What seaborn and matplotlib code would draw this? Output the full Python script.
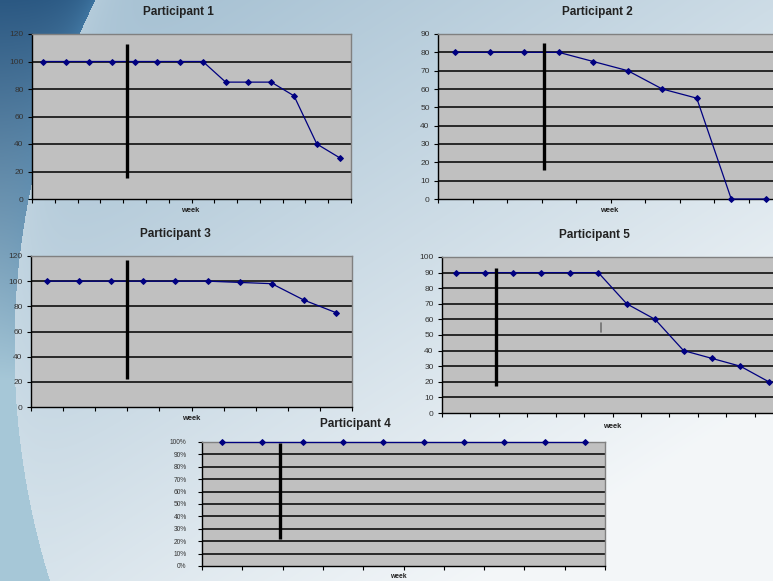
import numpy as np
import matplotlib
matplotlib.use("Agg")
import matplotlib.pyplot as plt
import seaborn as sns
from matplotlib.ticker import MultipleLocator, PercentFormatter, NullFormatter

# data (scores per week)
p1_scores = [100, 100, 100, 100, 100, 100, 100, 100, 85, 85, 85, 75, 40, 30]
p2_scores = [80, 80, 80, 80, 75, 70, 60, 55, 0, 0]
p3_scores = [100, 100, 100, 100, 100, 100, 99, 98, 85, 75]
p5_scores = [90, 90, 90, 90, 90, 90, 70, 60, 40, 35, 30, 20]
p4_scores = [100, 100, 100, 100, 100, 100, 100, 100, 100, 100]

# phase change line: x position (week index) and y extent
p1_phase = (3.67, 15, 113)
p2_phase = (2.56, 16, 85)
p3_phase = (2.5, 22, 117)
p5_phase = (1.41, 17, 93)
p4_phase = (1.44, 22, 99)

W, H = 773, 581
sns.set_style("ticks")
plt.rcParams["font.family"] = ["Liberation Sans", "DejaVu Sans"]

fig = plt.figure(figsize=(W / 100, H / 100), dpi=100)

# slide background
yy, xx = np.mgrid[0:H, 0:W].astype(float)
d = np.hypot(xx - 800, yy - 347) - 786
def rgb(h):
    return np.array(matplotlib.colors.to_rgb(h))
s = np.clip(xx / W * 0.55 + yy / H * 0.65, 0, 1)[..., None]
inner = rgb("#9cbace") * (1 - s) + rgb("#f4f7f9") * s
rim = np.exp(np.minimum(d, 0) / 30)[..., None]
inner = inner * (1 - 0.35 * rim) + rgb("#d6e4ec") * 0.35 * rim
t = np.clip(yy / 380, 0, 1)[..., None]
outer = rgb("#2b5882") * (1 - t) + rgb("#a6c7d7") * t
glow = np.exp(-np.maximum(d, 0) / 18)[..., None] * (1 - t) * 0.5
outer = outer * (1 - glow) + rgb("#4f8fbd") * glow
img = np.where((d < 0)[..., None], inner, outer)
bg = fig.add_axes([0, 0, 1, 1], zorder=-10)
bg.imshow(img, aspect="auto", extent=(0, W, H, 0))
bg.axis("off")


def px_rect(l, t, r, b):
    return [l / W, 1 - b / H, (r - l) / W, (b - t) / H]


def panel(rect, scores, phase, ymax, ystep, title, title_xy, week_xy, small=False):
    ax = fig.add_axes(px_rect(*rect))
    n = len(scores)
    weeks = list(range(n))
    ax.set_facecolor("#c0c0c0")
    for y in np.arange(ystep, ymax, ystep):
        ax.axhline(y, color="black", lw=1.1, zorder=1)
    sns.lineplot(x=weeks, y=scores, ax=ax, color="#000080", lw=0.9,
                 marker="D", markersize=3, markeredgecolor="#000080",
                 clip_on=False, zorder=3)
    px, y0, y1 = phase
    ax.plot([px, px], [y0, y1], color="black", lw=2.4, solid_capstyle="butt", zorder=4)
    ax.set_xlim(-0.5, n - 0.5)
    ax.set_ylim(0, ymax)
    ax.set_xticks(np.arange(-0.5, n, 1))
    ax.xaxis.set_major_formatter(NullFormatter())
    ax.yaxis.set_major_locator(MultipleLocator(ystep))
    ax.tick_params(axis="both", direction="out", length=3, width=0.8,
                   color="black", labelsize=6, labelcolor="#333333", pad=3)
    if small:
        ax.yaxis.set_major_formatter(PercentFormatter(100, decimals=0))
        ax.tick_params(axis="y", labelsize=4.8, pad=8)
    for side in ("left", "bottom"):
        ax.spines[side].set_color("black")
        ax.spines[side].set_linewidth(1)
    for side in ("top", "right"):
        ax.spines[side].set_color("#808080")
        ax.spines[side].set_linewidth(1)
    ax.set_xlabel("")
    ax.set_ylabel("")
    fig.text(title_xy[0] / W, 1 - title_xy[1] / H, title, ha="center", va="center",
             fontsize=8.5, fontweight="bold", color="#222222")
    fig.text(week_xy[0] / W, 1 - week_xy[1] / H, "week", ha="center", va="center",
             fontsize=4.9 if small else 5.4, fontweight="bold", color="#222222")
    return ax


panel((32, 34, 351, 199), p1_scores, p1_phase, 120, 20,
      "Participant 1", (178, 12), (190, 211))
panel((438, 34, 783, 199), p2_scores, p2_phase, 90, 10,
      "Participant 2", (597, 12), (609, 211))
panel((31, 256, 352, 407), p3_scores, p3_phase, 120, 20,
      "Participant 3", (175, 234), (191, 418))
ax5 = panel((442, 257, 783, 413), p5_scores, p5_phase, 100, 10,
            "Participant 5", (594, 235), (612, 427))
ax5.plot([5.08, 5.08], [52, 58], color="#707070", lw=1.2, zorder=4)
panel((202, 442, 605, 566), p4_scores, p4_phase, 100, 10,
      "Participant 4", (355, 424), (398, 576), small=True)

fig.savefig("out.png", dpi=100)
